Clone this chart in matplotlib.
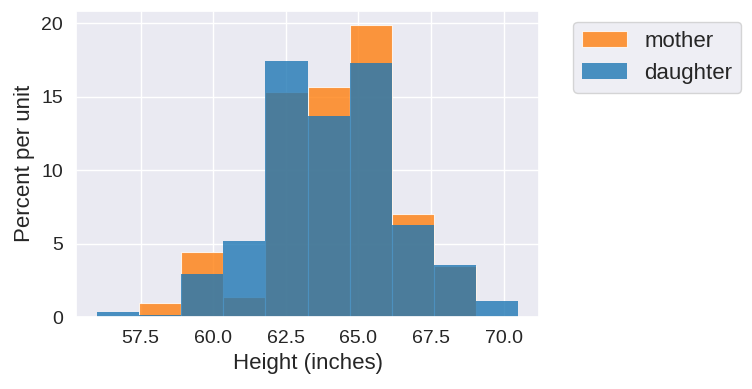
import matplotlib
matplotlib.use("Agg")
import matplotlib.pyplot as plt
import numpy as np
import seaborn as sns

# bin edges and percent-per-unit heights
bin_edges = [56.0, 57.45, 58.9, 60.35, 61.8, 63.25, 64.7, 66.15, 67.6, 69.05, 70.5]
mother = [0.0, 0.96, 4.44, 1.37, 15.29, 15.63, 19.86, 7.03, 3.49, 0.0]
daughter = [0.32, 0.16, 2.91, 5.17, 17.45, 13.68, 17.27, 6.28, 3.53, 1.07]

sns.set_theme(style="darkgrid")
plt.rcParams['font.family'] = ['Liberation Sans', 'DejaVu Sans']

edges = np.array(bin_edges)
mids = (edges[:-1] + edges[1:]) / 2

fig, ax = plt.subplots(figsize=(7.52, 3.89), dpi=100)
ax.hist(mids, bins=edges, weights=mother, color="#ff7f0e", alpha=0.8,
        ec="w", lw=0.8, label="mother")
ax.hist(mids, bins=edges, weights=daughter, color="#1f77b4", alpha=0.8,
        lw=0, label="daughter")

ax.set_xlabel("Height (inches)", fontsize=16)
ax.set_ylabel("Percent per unit", fontsize=16)
ax.set_xticks([57.5, 60.0, 62.5, 65.0, 67.5, 70.0])
ax.set_yticks([0, 5, 10, 15, 20])
ax.tick_params(labelsize=14)
ax.legend(loc=2, bbox_to_anchor=(1.05, 1), fontsize=16)

plt.subplots_adjust(left=0.101, right=0.717, top=0.9725, bottom=0.185)
plt.savefig("out.png", dpi=100)
